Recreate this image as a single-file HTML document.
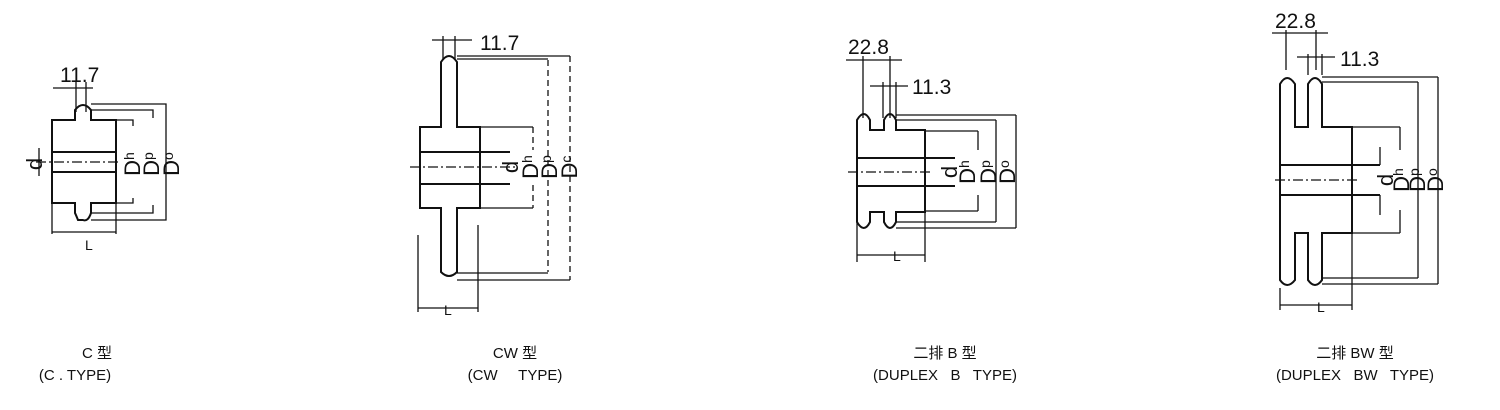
<!DOCTYPE html>
<html><head><meta charset="utf-8"><style>
html,body{margin:0;padding:0;background:#fff;}
svg{display:block}
text{font-family:"Liberation Sans","Noto Sans CJK SC",sans-serif;fill:#111}
.l{stroke:#111;stroke-width:2;fill:none}
.t{stroke:#111;stroke-width:1.3;fill:none}
.c{stroke:#111;stroke-width:1.2;fill:none;stroke-dasharray:10 3 2 3}
.d{stroke:#111;stroke-width:1.3;fill:none;stroke-dasharray:6 4}
.lab{font-size:21px}
.rl{font-size:22px}
.cap{font-size:15px}
</style></head><body>
<svg width="1500" height="410" viewBox="0 0 1500 410">
<!-- ===== C type ===== -->
<g>
<text x="60" y="82" class="lab">11.7</text>
<path class="t" d="M53 88H93M76 82V112M86 82V112"/>
<path class="l" d="M52 120H75V110Q83 100 91 110V120H116V203H91V213Q88 222 83 220H78Q76 215 75 213V203H52Z"/>
<path class="l" d="M52 152H116M52 172H116"/>
<path class="c" d="M36 162H118"/>
<path class="t" d="M39 148V176M116 120H133V126M116 203H133V198M91 110H153V118M91 213H153V205M91 104H166V220H91"/>
<path class="t" d="M52 232H116M52 203V234M116 203V234"/>
<text x="85" y="250" style="font-size:14px">L</text>
<text transform="translate(42,164) rotate(-90)" class="rl" text-anchor="middle">d</text>
<text transform="translate(140,164) rotate(-90)" class="rl" text-anchor="middle">D<tspan font-size="14" dy="-6">h</tspan></text>
<text transform="translate(159,164) rotate(-90)" class="rl" text-anchor="middle">D<tspan font-size="14" dy="-6">p</tspan></text>
<text transform="translate(179,164) rotate(-90)" class="rl" text-anchor="middle">D<tspan font-size="14" dy="-6">o</tspan></text>
</g>
<!-- ===== CW type ===== -->
<g>
<text x="480" y="50" class="lab">11.7</text>
<path class="t" d="M432 40H472M443 36V60M455 36V60"/>
<path class="l" d="M441 127V62Q449 50 457 62V127H480V208H457V272Q449 280 441 272V208H420V127Z"/>
<path class="l" d="M420 152H510M420 184H510"/>
<path class="c" d="M410 167H515"/>
<path class="t" d="M457 56H570M457 59H548M480 127H533M480 208H533M457 273H548M457 280H570"/>
<path class="d" d="M548 60V272M570 56V280M533 127V150M533 185V208"/>
<path class="t" d="M418 235V312M478 225V312M418 308H478"/>
<text x="444" y="315" style="font-size:14px">L</text>
<text transform="translate(518,167) rotate(-90)" class="rl" text-anchor="middle">d</text>
<text transform="translate(538,167) rotate(-90)" class="rl" text-anchor="middle">D<tspan font-size="14" dy="-6">h</tspan></text>
<text transform="translate(557,167) rotate(-90)" class="rl" text-anchor="middle">D<tspan font-size="14" dy="-6">p</tspan></text>
<text transform="translate(577,167) rotate(-90)" class="rl" text-anchor="middle">D<tspan font-size="14" dy="-6">c</tspan></text>
</g>
<!-- ===== Duplex B ===== -->
<g>
<text x="848" y="54" class="lab">22.8</text>
<text x="912" y="94" class="lab">11.3</text>
<path class="t" d="M846 60H902M863 56V118M890 56V118M870 86H908M883 82V118M896 82V118"/>
<path class="l" d="M857 130V120Q864 108 870 120V130H884V120Q890 108 896 120V130H925V212H896V222Q890 234 884 222V212H870V222Q864 234 857 222V212Z"/>
<path class="l" d="M857 158H955M857 186H955"/>
<path class="c" d="M848 172H930"/>
<path class="t" d="M896 115H1016M896 120H996M925 131H978M925 211H978M896 222H996M896 228H1016"/>
<path class="t" d="M1016 115V228M996 120V222M978 131V150M978 195V211"/>
<path class="t" d="M857 212V262M925 212V262M857 255H925"/>
<text x="893" y="261" style="font-size:14px">L</text>
<text transform="translate(957,172) rotate(-90)" class="rl" text-anchor="middle">d</text>
<text transform="translate(975,172) rotate(-90)" class="rl" text-anchor="middle">D<tspan font-size="14" dy="-6">h</tspan></text>
<text transform="translate(996,172) rotate(-90)" class="rl" text-anchor="middle">D<tspan font-size="14" dy="-6">p</tspan></text>
<text transform="translate(1015,172) rotate(-90)" class="rl" text-anchor="middle">D<tspan font-size="14" dy="-6">o</tspan></text>
</g>
<!-- ===== Duplex BW ===== -->
<g>
<text x="1275" y="28" class="lab">22.8</text>
<text x="1340" y="66" class="lab">11.3</text>
<path class="t" d="M1272 33H1328M1286 30V70M1316 30V70M1297 57H1335M1308 54V75M1322 54V75"/>
<path class="l" d="M1280 280V84Q1287 72 1295 84V127H1308V84Q1315 72 1322 84V127H1352V233H1322V280Q1315 290 1308 280V233H1295V280Q1287 290 1280 280Z"/>
<path class="l" d="M1280 165H1380M1280 195H1380"/>
<path class="c" d="M1275 180H1360"/>
<path class="t" d="M1322 77H1438M1322 82H1418M1352 127H1400M1352 233H1400M1322 278H1418M1322 284H1438"/>
<path class="t" d="M1438 77V284M1418 82V278M1400 127V150M1400 210V233M1380 147V165M1380 195V215"/>
<path class="t" d="M1280 288V310M1352 233V310M1280 305H1352"/>
<text x="1317" y="312" style="font-size:14px">L</text>
<text transform="translate(1393,180) rotate(-90)" class="rl" text-anchor="middle">d</text>
<text transform="translate(1409,180) rotate(-90)" class="rl" text-anchor="middle">D<tspan font-size="14" dy="-6">h</tspan></text>
<text transform="translate(1425,180) rotate(-90)" class="rl" text-anchor="middle">D<tspan font-size="14" dy="-6">p</tspan></text>
<text transform="translate(1443,180) rotate(-90)" class="rl" text-anchor="middle">D<tspan font-size="14" dy="-6">o</tspan></text>
</g>
<!-- captions -->
<text x="97" y="358" class="cap" text-anchor="middle">C 型</text>
<text x="75" y="380" class="cap" text-anchor="middle">(C  .  TYPE)</text>
<text x="515" y="358" class="cap" text-anchor="middle">CW 型</text>
<text x="515" y="380" class="cap" text-anchor="middle" xml:space="preserve">(CW     TYPE)</text>
<text x="945" y="358" class="cap" text-anchor="middle">二排 B 型</text>
<text x="945" y="380" class="cap" text-anchor="middle" xml:space="preserve">(DUPLEX   B   TYPE)</text>
<text x="1355" y="358" class="cap" text-anchor="middle">二排 BW 型</text>
<text x="1355" y="380" class="cap" text-anchor="middle" xml:space="preserve">(DUPLEX   BW   TYPE)</text>
</svg>
</body></html>
